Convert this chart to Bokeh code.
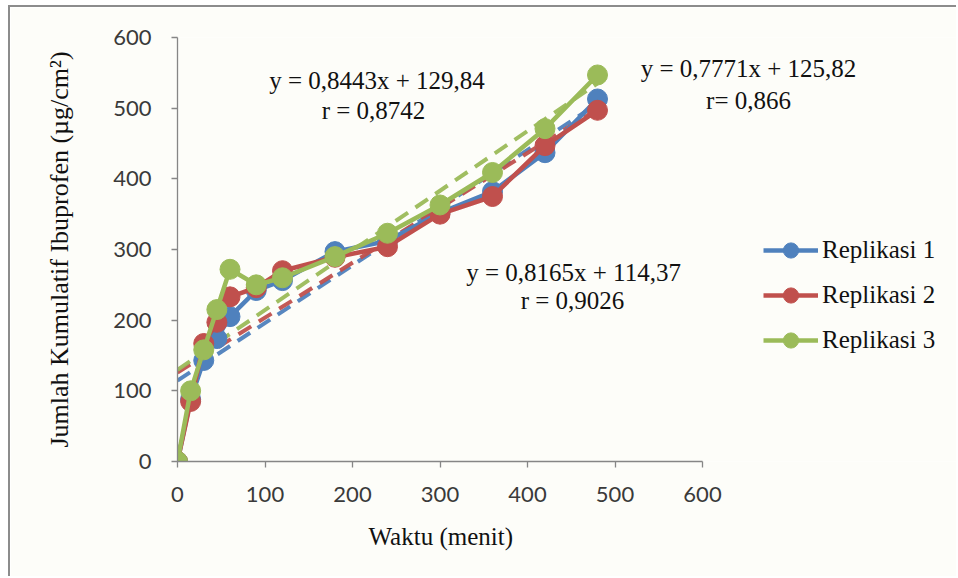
from bokeh.plotting import figure
from bokeh.models import FixedTicker, Legend, LegendItem, Label, Title
from bokeh.embed import file_html
from bokeh.resources import INLINE

# ---- data ----
waktu = [0, 15, 30, 45, 60, 90, 120, 180, 240, 300, 360, 420, 480]
replikasi_1 = [0, 88, 143, 174, 205, 242, 256, 297, 312, 352, 382, 437, 513]
replikasi_2 = [0, 85, 167, 197, 233, 246, 270, 289, 304, 350, 375, 447, 497]
replikasi_3 = [0, 100, 158, 215, 272, 250, 260, 290, 323, 363, 409, 471, 547]
series_names = ["Replikasi 1", "Replikasi 2", "Replikasi 3"]
# regression (slope, intercept)
slopes = [0.8165, 0.7771, 0.8443]
intercepts = [114.37, 125.82, 129.84]
trend_x = [0, 480]
ticks = [0, 100, 200, 300, 400, 500, 600]

colors = ["#4F81BD", "#C0504D", "#9BBB59"]
serif = "Liberation Serif"
bg = "#fdfdf9"

W, H = 948, 571
left, bottom, top = 167, 117, 30
frame_w = W - left          # frame extends to the right edge (room for legend)
axis_w = 525                # pixel length of the 0..600 x axis
x_end = 600 * frame_w / axis_w

p = figure(width=W, height=H, output_backend="svg", toolbar_location=None,
           x_range=(0, x_end), y_range=(0, 600),
           min_border_left=left, min_border_right=0, min_border_top=top, min_border_bottom=bottom)
p.styles = {"margin-left": "8px", "margin-top": "5px",
            "border-left": "2px solid #8c8c8c", "border-top": "2px solid #8c8c8c"}
p.background_fill_color = bg
p.border_fill_color = bg
p.outline_line_color = None
p.grid.visible = False

for ax in (p.xaxis, p.yaxis):
    ax.ticker = FixedTicker(ticks=ticks)
    ax.bounds = (0, 600)
    ax.axis_line_color = "#868686"
    ax.axis_line_width = 1.3
    ax.major_tick_line_color = "#868686"
    ax.major_tick_line_width = 1.3
    ax.major_tick_in = 0
    ax.major_tick_out = 6
    ax.minor_tick_line_color = None
    ax.major_label_text_font = "Lato"
    ax.major_label_text_font_size = "22px"
    ax.major_label_text_color = "#3a3a3a"
    ax.axis_label_text_font = serif
    ax.axis_label_text_font_style = "normal"
    ax.axis_label_text_color = "#111111"
    ax.axis_label_text_font_size = "25px"

p.yaxis.axis_label = "Jumlah Kumulatif Ibuprofen (µg/cm²)"
p.yaxis.axis_label_text_font_size = "26px"
p.xaxis.major_label_standoff = 19
p.yaxis.major_label_standoff = 20
p.yaxis.axis_label_standoff = 36

# x-axis title, centred under the 0..600 axis (not the wider frame)
p.add_layout(Title(text="Waktu (menit)", align="left", offset=191, standoff=32,
                   text_font=serif, text_font_size="25px", text_font_style="normal",
                   text_color="#111111"), "below")

ys = [replikasi_1, replikasi_2, replikasi_3]
items = []
for i in range(3):
    ty = [slopes[i] * x + intercepts[i] for x in trend_x]
    p.line(trend_x, ty, line_color=colors[i], line_width=4, line_dash="15 9", line_alpha=0.95)

for i in range(3):
    l = p.line(waktu, ys[i], line_color=colors[i], line_width=4.5)
    c = p.scatter(waktu, ys[i], size=20, fill_color=colors[i], line_color=colors[i])
    items.append(LegendItem(label=series_names[i], renderers=[l, c]))

legend = Legend(items=items, location=(586, 102), orientation="vertical",
                glyph_width=55, glyph_height=38, label_standoff=4, spacing=7,
                padding=0, margin=0, border_line_color=None, background_fill_alpha=0,
                label_text_font=serif, label_text_font_size="25px", label_text_color="#111111")
p.add_layout(legend, "center")

labels = [
    ("y = 0,8443x + 129,84", 228, 539),
    ("r = 0,8742", 224, 497),
    ("y = 0,7771x + 125,82", 652.6, 556),
    ("r= 0,866", 652.6, 510.5),
    ("y = 0,8165x + 114,37", 452.6, 267.5),
    ("r = 0,9026", 451.4, 227.8),
]
for txt, x, y in labels:
    p.add_layout(Label(x=x, y=y, text=txt, text_font=serif, text_font_size="25px",
                       text_color="#111111", text_align="center", text_baseline="middle"))

open("out.html", "w").write(file_html(p, INLINE))
